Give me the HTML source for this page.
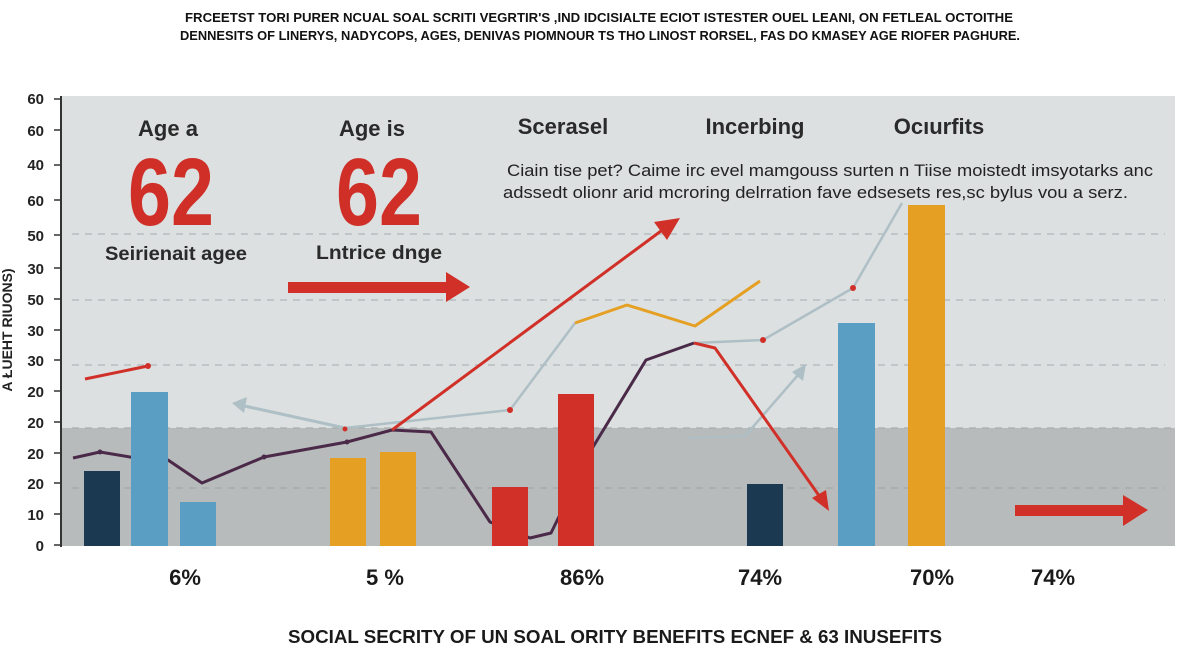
<!DOCTYPE html>
<html><head><meta charset="utf-8"><style>
body{margin:0;background:#fff;}
svg{display:block;font-family:"Liberation Sans",sans-serif;}
</style></head><body>
<svg width="1200" height="654" viewBox="0 0 1200 654" xmlns="http://www.w3.org/2000/svg">
<rect width="1200" height="654" fill="#fff"/>
<text x="599" y="22" font-size="12.5" font-weight="bold" text-anchor="middle" fill="#111" textLength="828" lengthAdjust="spacingAndGlyphs">FRCEETST TORI PURER NCUAL SOAL SCRITI VEGRTIR'S ,IND IDCISIALTE ECIOT ISTESTER OUEL LEANI, ON FETLEAL OCTOITHE</text>
<text x="600" y="40" font-size="12.5" font-weight="bold" text-anchor="middle" fill="#111" textLength="840" lengthAdjust="spacingAndGlyphs">DENNESITS OF LINERYS, NADYCOPS, AGES, DENIVAS PIOMNOUR TS THO LINOST RORSEL, FAS DO KMASEY AGE RIOFER PAGHURE.</text>
<rect x="62" y="96" width="1113" height="332" fill="#dce0e0"/>
<rect x="62" y="428" width="1113" height="118" fill="#b8bbbb"/>
<g stroke="#b0b6b8" stroke-width="1.3" stroke-dasharray="7,6">
<line x1="72" y1="234" x2="1165" y2="234"/><line x1="72" y1="300" x2="1165" y2="300"/><line x1="72" y1="365" x2="1165" y2="365"/><line x1="72" y1="428" x2="1175" y2="428" stroke="#a8acac"/><line x1="72" y1="488" x2="1165" y2="488" stroke="#a4a8a8"/>
</g>
<line x1="61" y1="96" x2="61" y2="547" stroke="#333" stroke-width="2"/>
<g font-size="15" fill="#222" text-anchor="end" font-weight="bold">
<text x="44" y="104">60</text><text x="44" y="136">60</text><text x="44" y="170">40</text><text x="44" y="206">60</text><text x="44" y="241">50</text><text x="44" y="274">30</text><text x="44" y="305">50</text><text x="44" y="336">30</text><text x="44" y="366">30</text><text x="44" y="397">20</text><text x="44" y="428">20</text><text x="44" y="459">20</text><text x="44" y="489">20</text><text x="44" y="520">10</text><text x="44" y="551">0</text>
</g>
<g stroke="#333" stroke-width="1.5">
<line x1="54" y1="99" x2="61" y2="99"/><line x1="54" y1="130" x2="61" y2="130"/><line x1="54" y1="165" x2="61" y2="165"/><line x1="54" y1="200" x2="61" y2="200"/><line x1="54" y1="235" x2="61" y2="235"/><line x1="54" y1="268" x2="61" y2="268"/><line x1="54" y1="299" x2="61" y2="299"/><line x1="54" y1="330" x2="61" y2="330"/><line x1="54" y1="360" x2="61" y2="360"/><line x1="54" y1="391" x2="61" y2="391"/><line x1="54" y1="422" x2="61" y2="422"/><line x1="54" y1="453" x2="61" y2="453"/><line x1="54" y1="483" x2="61" y2="483"/><line x1="54" y1="514" x2="61" y2="514"/><line x1="54" y1="545" x2="61" y2="545"/>
</g>
<text transform="translate(12,330) rotate(-90)" font-size="14" fill="#222" text-anchor="middle" font-weight="bold">A ŁUEHT RIUONS)</text>
<g font-weight="bold" fill="#2a2a2a" font-size="22" text-anchor="middle">
<text x="168" y="136">Age a</text><text x="372" y="136">Age is</text><text x="563" y="134">Scerasel</text><text x="755" y="134">Incerbing</text><text x="939" y="134">Ocıurfits</text>
</g>
<g font-weight="bold" fill="#cf2f27" font-size="96" text-anchor="middle">
<text x="171" y="225" textLength="86" lengthAdjust="spacingAndGlyphs">62</text><text x="379" y="225" textLength="86" lengthAdjust="spacingAndGlyphs">62</text>
</g>
<g fill="#2a2a2a" font-size="19" text-anchor="middle" font-weight="bold">
<text x="176" y="260" textLength="142" lengthAdjust="spacingAndGlyphs">Seirienait agee</text><text x="379" y="259" textLength="126" lengthAdjust="spacingAndGlyphs">Lntrice dnge</text>
</g>
<g fill="#222" font-size="17">
<text x="507" y="176" textLength="646" lengthAdjust="spacingAndGlyphs">Ciain tise pet? Caime irc evel mamgouss surten n Tiise moistedt imsyotarks anc</text>
<text x="503" y="198" textLength="625" lengthAdjust="spacingAndGlyphs">adssedt olionr arid mcroring delrration fave edsesets res,sc bylus vou a serz.</text>
</g>
<!-- lines -->
<g fill="none" stroke-linejoin="round">
<polyline points="345,428 510,410 575,323" stroke="#aebfc6" stroke-width="2.5"/>
<line x1="345" y1="428" x2="240" y2="405" stroke="#aebfc6" stroke-width="3"/>
<polyline points="694,343 763,340 853,288 902,203" stroke="#aebfc6" stroke-width="2.5"/>
<line x1="688" y1="438" x2="745" y2="436" stroke="#aebfc6" stroke-width="2"/>
<line x1="745" y1="436" x2="798" y2="375" stroke="#aebfc6" stroke-width="2.5"/>
<polyline points="575,323 627,305 695,326 760,281" stroke="#e5a024" stroke-width="3"/>
<polyline points="73,458 100,452 130,457 168,460 202,483 264,457 347,442 392,430 431,432 490,522 530,538 551,533 593,447 646,360 694,343" stroke="#4a2a48" stroke-width="3"/>
<line x1="85" y1="379" x2="148" y2="366" stroke="#d03028" stroke-width="3"/>
<line x1="392" y1="430" x2="665" y2="228" stroke="#d03028" stroke-width="3"/>
<polyline points="694,343 715,348 820,497" stroke="#d03028" stroke-width="3"/>
</g>
<!-- bars -->
<rect x="84" y="471" width="36" height="75" fill="#1b3a52"/>
<rect x="131" y="392" width="37" height="154" fill="#5a9ec4"/>
<rect x="180" y="502" width="36" height="44" fill="#5a9ec4"/>
<rect x="330" y="458" width="36" height="88" fill="#e5a024"/>
<rect x="380" y="452" width="36" height="94" fill="#e5a024"/>
<rect x="492" y="487" width="36" height="59" fill="#d03028"/>
<rect x="558" y="394" width="36" height="152" fill="#d03028"/>
<rect x="747" y="484" width="36" height="62" fill="#1b3a52"/>
<rect x="838" y="323" width="37" height="223" fill="#5a9ec4"/>
<rect x="908" y="205" width="37" height="341" fill="#e5a024"/>
<polygon points="232,403 247,397 244,413" fill="#aebfc6"/>
<polygon points="806,364 792,372 803,381" fill="#aebfc6"/>
<polygon points="680,218 654,222 667,240" fill="#d03028"/>
<polygon points="829,511 812,498 826,490" fill="#d03028"/>
<rect x="288" y="282" width="160" height="11" fill="#d03028"/>
<polygon points="446,272 470,287 446,302" fill="#d03028"/>
<rect x="1015" y="505" width="110" height="11" fill="#d03028"/>
<polygon points="1123,495 1148,510 1123,526" fill="#d03028"/>
<g fill="#d03028"><circle cx="148" cy="366" r="3"/><circle cx="510" cy="410" r="3"/><circle cx="763" cy="340" r="3"/><circle cx="853" cy="288" r="3"/><circle cx="345" cy="429" r="2.5"/></g>
<g fill="#4a2a48"><circle cx="100" cy="452" r="2.5"/><circle cx="264" cy="457" r="2.5"/><circle cx="347" cy="442" r="2.5"/></g>
<g font-size="22" fill="#1a1a1a" text-anchor="middle" font-weight="bold">
<text x="185" y="585">6%</text><text x="385" y="585">5 %</text><text x="582" y="585">86%</text><text x="760" y="585">74%</text><text x="932" y="585">70%</text><text x="1053" y="585">74%</text>
</g>
<text x="615" y="643" font-size="18.5" font-weight="bold" fill="#1a1a1a" text-anchor="middle" textLength="654" lengthAdjust="spacingAndGlyphs">SOCIAL SECRITY OF UN SOAL ORITY BENEFITS ECNEF &amp; 63 INUSEFITS</text>
</svg>
</body></html>
